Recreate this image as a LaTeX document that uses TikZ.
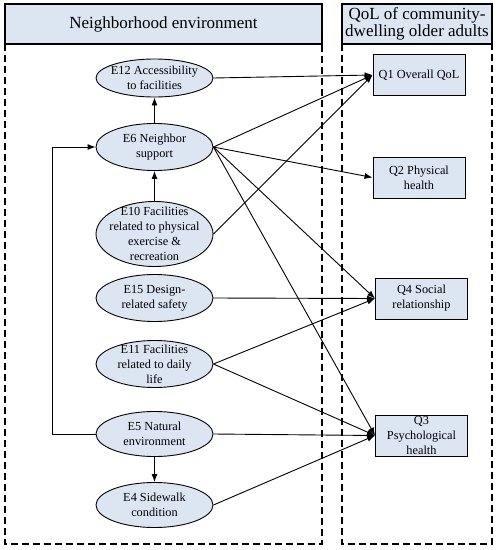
\documentclass[tikz,border=0pt]{standalone}
\usepackage{fontspec}
\setmainfont{Liberation Serif}
\usetikzlibrary{shapes.geometric}
\usetikzlibrary{arrows.meta}
\definecolor{boxblue}{RGB}{220,230,242}

\begin{document}
\begin{tikzpicture}[x=1pt, y=-1pt,
    factor/.style={
        % The shape:
        ellipse,
        % The size:
        minimum width=117pt,
        inner sep=0pt,
        % The border
        line width=.9pt,
        draw=black,
        % The filling
        fill=boxblue
    },
    outcome/.style={
        % The shape:
        rectangle,
        % The size:
        minimum width=92pt,
        minimum height=41pt,
        inner sep=0pt,
        % The border
        line width=.9pt,
        draw=black,
        % The filling
        fill=boxblue
    },
    header/.style={
        % The shape:
        rectangle,
        % The size:
        minimum height=40pt,
        inner sep=2pt,
        % The border
        line width=1.1pt,
        draw=black,
        % The filling
        fill=boxblue,
        % Font
        align=center,
        font=\fontsize{17}{17.5}\selectfont
    },
    frame/.style={
        line width=1.1pt,
        dash pattern=on 7pt off 4pt
    },
    words/.style={
        align=center,
        inner sep=0pt,
        font=\fontsize{12.3}{15}\selectfont
    },
    link/.style={
        line width=.9pt,
        -{Latex[length=8pt,width=6pt]}
    }]

    \useasboundingbox (0,0) rectangle (500,550);

    % the two dashed panels
    \draw[frame] (5,44) rectangle (322,544);
    \draw[frame] (342,44) rectangle (492,544);
    \node[header, minimum width=317pt] (envhead) at (163.5,24) {Neighborhood environment};
    \node[header, minimum width=150pt] (qolhead) at (417,24) {QoL of community-\\dwelling older adults};

    \foreach \name/\y/\h/\txt in {
        e12/78/38pt/{E12 Accessibility\\to facilities},
        e6/147/47pt/{E6 Neighbor\\support},
        e10/234/65pt/{E10 Facilities\\related to physical\\exercise \&\\recreation},
        e15/298/47pt/{E15 Design-\\related safety},
        e11/364/47pt/{E11 Facilities\\related to daily\\life},
        e5/434/45pt/{E5 Natural\\environment},
        e4/505/45pt/{E4 Sidewalk\\condition}}
    {
        \node[factor, minimum height=\h, label={[words]center:\txt}] (\name) at (154.5,\y) {};
    }

    \foreach \name/\x/\y/\txt in {
        q1/419/75/{Q1 Overall QoL},
        q2/419/177.5/{Q2 Physical\\health},
        q4/421.5/298.5/{Q4 Social\\relationship},
        q3/421.5/435.5/{Q3\\Psychological\\health}}
    {
        \node[outcome, label={[words]center:\txt}] (\name) at (\x,\y) {};
    }

    % paths inside the environment panel
    \draw[link] (e6) -- (e12);
    \draw[link] (e10) -- (e6);
    \draw[link] (e5) -- (e4);
    \coordinate (bend) at (52,434);
    \draw[link] (e5.west) -- (bend) |- (e6.west);

    % paths to the QoL domains
    \foreach \from/\to in {e12/q1, e6/q1, e10/q1, e6/q2, e6/q4, e6/q3,
                           e15/q4, e11/q4, e11/q3, e5/q3, e4/q3}
        \draw[link] (\from.east) -- (\to.west);
\end{tikzpicture}
\end{document}
